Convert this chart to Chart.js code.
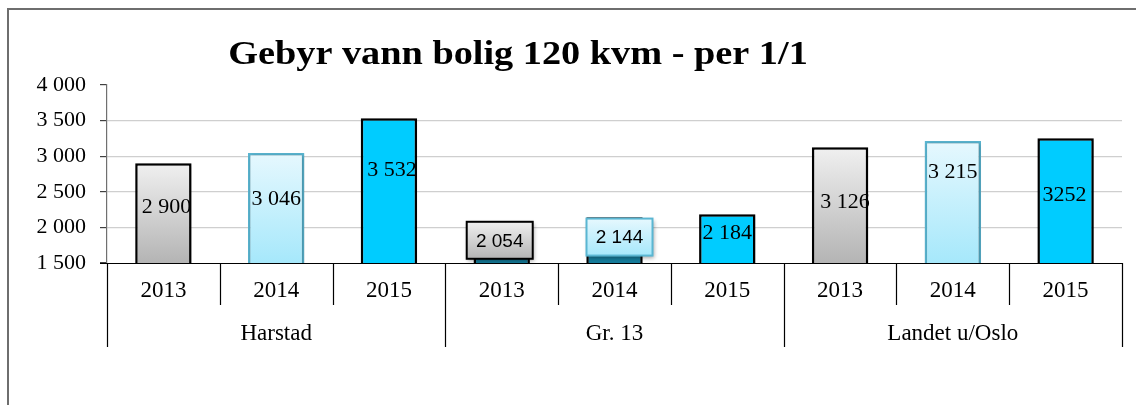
<!DOCTYPE html>
<html>
<head>
<meta charset="utf-8">
<script src="https://cdn.jsdelivr.net/npm/chart.js@4/dist/chart.umd.min.js"></script>
<style>
  html, body { margin: 0; padding: 0; background: #fff; }
  #wrap { width: 1136px; height: 405px; position: relative; }
</style>
</head>
<body>
<div id="wrap"><canvas id="gebyrChart"></canvas></div>
<script>
const titleText = 'Gebyr vann bolig 120 kvm - per 1/1';
const years = ['2013', '2014', '2015'];
const regions = ['Harstad', 'Gr. 13', 'Landet u/Oslo'];
const values = [2900, 3046, 3532, 2054, 2144, 2184, 3126, 3215, 3252];
const valueLabels = ['2 900', '3 046', '3 532', '2 054', '2 144', '2 184', '3 126', '3 215', '3252'];
const boxedLabels = [false, false, false, true, true, false, false, false, false];
const yTicks = [1500, 2000, 2500, 3000, 3500, 4000];

const serif = "'Liberation Serif', 'Times New Roman', serif";
const sans = "'Liberation Sans', Arial, sans-serif";

// one category per region/year pair
const categories = [];
regions.forEach(r => years.forEach(y => categories.push(y)));

// label offsets from the centre of the visible bar (dx, dy)
const labelNudge = [[3, -6], [0, -9], [3, -20], [-2, -3], [5, -3], [0, -5], [5, -3], [0, -30], [-1, -5]];

function spaced(v) {
  return String(v).replace(/\B(?=(\d{3})+(?!\d))/g, ' ');
}

function yearGradient(ctx, yr, top, bottom) {
  const g = ctx.createLinearGradient(0, top, 0, bottom);
  if (yr === 0) {
    g.addColorStop(0, '#f0f0f0');
    g.addColorStop(1, '#b4b4b4');
  } else {
    g.addColorStop(0, '#e6f8fe');
    g.addColorStop(1, '#a6e8fb');
  }
  return g;
}

function barFill(c) {
  const i = c.dataIndex;
  const yr = i % 3;
  if (boxedLabels[i]) return '#147c9b';
  if (yr === 2) return '#00ccff';
  const area = c.chart.chartArea;
  if (!area) return yr === 0 ? '#d0d0d0' : '#c8f0fc';
  const top = c.chart.scales.y.getPixelForValue(values[i]);
  return yearGradient(c.chart.ctx, yr, top, area.bottom);
}

function barBorder(c) {
  const i = c.dataIndex;
  if (!boxedLabels[i] && i % 3 === 1) return '#5ab6d2';
  return '#000000';
}

const decorations = {
  id: 'decorations',
  beforeDraw(chart) {
    const ctx = chart.ctx;
    ctx.save();
    ctx.strokeStyle = '#6e6e6e';
    ctx.lineWidth = 2;
    ctx.beginPath();
    ctx.moveTo(8, chart.height + 5);
    ctx.lineTo(8, 9);
    ctx.lineTo(chart.width + 5, 9);
    ctx.stroke();

    // title
    ctx.fillStyle = '#000';
    ctx.font = 'bold 33px ' + serif;
    ctx.textAlign = 'center';
    ctx.textBaseline = 'alphabetic';
    ctx.translate(518, 64);
    ctx.scale(1.16, 1);
    ctx.fillText(titleText, 0, 0);
    ctx.restore();
  },
  beforeDatasetsDraw(chart) {
    const ctx = chart.ctx;
    ctx.save();
    ctx.shadowColor = 'rgba(0,0,0,0.28)';
    ctx.shadowBlur = 4;
    ctx.shadowOffsetX = 1;
    ctx.shadowOffsetY = 1;
  },
  afterDatasetsDraw(chart) {
    const ctx = chart.ctx;
    ctx.restore();

    const xs = chart.scales.x;
    const ys = chart.scales.y;
    const bottom = ys.bottom;
    const n = categories.length;
    const step = xs.width / n;

    ctx.save();
    // category axis: line, separators and the two label rows
    ctx.strokeStyle = '#000';
    ctx.lineWidth = 1.2;
    ctx.beginPath();
    ctx.moveTo(xs.left - 7, bottom + 0.5);
    ctx.lineTo(xs.right, bottom + 0.5);
    for (let i = 0; i <= n; i++) {
      const x = Math.round(xs.left + i * step) + 0.5;
      ctx.moveTo(x, bottom);
      ctx.lineTo(x, i % 3 === 0 ? bottom + 84 : bottom + 42);
    }
    ctx.stroke();

    ctx.fillStyle = '#000';
    ctx.textAlign = 'center';
    ctx.textBaseline = 'middle';
    ctx.font = '23px ' + serif;
    categories.forEach((c, i) => {
      ctx.fillText(c, xs.getPixelForValue(i), bottom + 28);
    });
    regions.forEach((r, g) => {
      const cx = (xs.getPixelForValue(g * 3) + xs.getPixelForValue(g * 3 + 2)) / 2;
      ctx.fillText(r, cx, bottom + 71);
    });

    // value labels, centred on the part of the bar above the axis
    const meta = chart.getDatasetMeta(0);
    meta.data.forEach((bar, i) => {
      const cx = bar.x + labelNudge[i][0];
      const cy = (bar.y + bottom) / 2 + labelNudge[i][1];
      if (boxedLabels[i]) {
        const w = 66, h = 37;
        const yr = i % 3;
        ctx.save();
        ctx.shadowColor = 'rgba(0,0,0,0.35)';
        ctx.shadowBlur = 4;
        ctx.shadowOffsetX = 1;
        ctx.shadowOffsetY = 2;
        ctx.fillStyle = yearGradient(ctx, yr, cy - h / 2, cy + h / 2);
        ctx.fillRect(cx - w / 2, cy - h / 2, w, h);
        ctx.restore();
        ctx.strokeStyle = yr === 0 ? '#000' : '#5ab6d2';
        ctx.lineWidth = 2;
        ctx.strokeRect(cx - w / 2, cy - h / 2, w, h);
        ctx.fillStyle = '#000';
        ctx.font = '19px ' + sans;
        ctx.fillText(valueLabels[i], cx, cy + 1);
      } else {
        ctx.fillStyle = '#000';
        ctx.font = '22px ' + serif;
        ctx.fillText(valueLabels[i], cx, cy);
      }
    });
    ctx.restore();
  }
};

const ctx = document.getElementById('gebyrChart').getContext('2d');
const gebyrChart = new Chart(ctx, {
  type: 'bar',
  data: {
    labels: categories,
    datasets: [{
      data: values,
      backgroundColor: barFill,
      borderColor: barBorder,
      borderWidth: 2.5,
      borderSkipped: false,
      barPercentage: 0.5,
      categoryPercentage: 1
    }]
  },
  options: {
    responsive: true,
    maintainAspectRatio: false,
    animation: false,
    layout: { padding: { top: 85, right: 14, bottom: 0, left: 0 } },
    plugins: {
      legend: { display: false },
      tooltip: { enabled: false },
      title: { display: false }
    },
    scales: {
      x: {
        ticks: { display: false },
        grid: { display: false },
        border: { display: false },
        afterFit: s => { s.height = 142; }
      },
      y: {
        min: 1500,
        max: 4000,
        afterBuildTicks: s => { s.ticks = yTicks.map(v => ({ value: v })); },
        afterFit: s => { s.width = 107; },
        ticks: {
          padding: 14,
          color: '#000',
          font: { family: serif, size: 22 },
          callback: v => spaced(v)
        },
        grid: {
          color: c => (c.tick && (c.tick.value === 4000 || c.tick.value === 1500)) ? 'rgba(0,0,0,0)' : '#cfcfcf',
          lineWidth: 1.2,
          tickLength: 7,
          tickColor: '#404040'
        },
        border: { color: '#707070', width: 1.2 }
      }
    }
  },
  plugins: [decorations]
});
</script>
</body>
</html>
